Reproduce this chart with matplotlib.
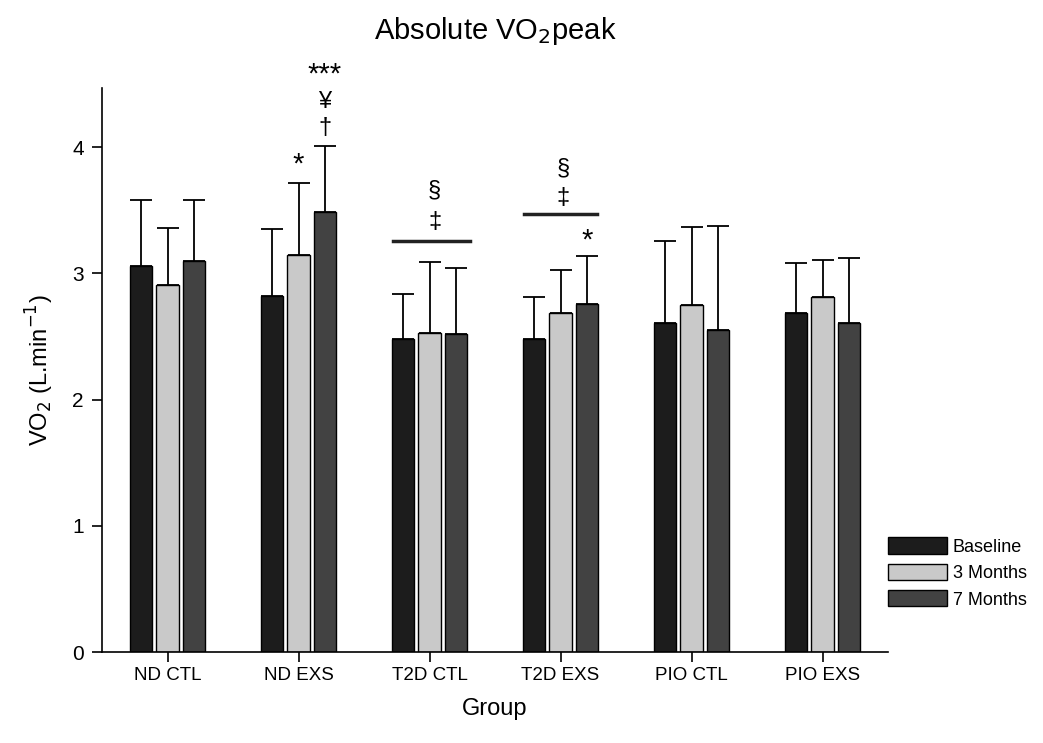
import numpy as np
import matplotlib.pyplot as plt

plt.rcParams['font.family'] = ['Liberation Sans', 'DejaVu Sans']

groups = ["ND CTL", "ND EXS", "T2D CTL", "T2D EXS", "PIO CTL", "PIO EXS"]
series = ["Baseline", "3 Months", "7 Months"]

baseline = [3.06, 2.82, 2.48, 2.48, 2.61, 2.69]
baseline_err = [0.52, 0.53, 0.36, 0.33, 0.65, 0.39]
month3 = [2.91, 3.15, 2.53, 2.69, 2.75, 2.81]
month3_err = [0.45, 0.57, 0.56, 0.34, 0.62, 0.30]
month7 = [3.10, 3.49, 2.52, 2.76, 2.55, 2.61]
month7_err = [0.48, 0.52, 0.52, 0.38, 0.83, 0.51]

colors = ["#1c1c1c", "#c9c9c9", "#424242"]

x = np.arange(len(groups))
width = 0.168
step = 0.2

fig = plt.figure(figsize=(10.43, 7.43), dpi=100)
ax = fig.add_axes([102 / 1043, 1 - 652 / 743, 786 / 1043, 564 / 743])

for i, (vals, errs) in enumerate([(baseline, baseline_err), (month3, month3_err), (month7, month7_err)]):
    pos = x + (i - 1) * step
    ax.bar(pos, vals, width, color=colors[i], edgecolor="black", linewidth=1.0,
           label=series[i], zorder=2)
    ax.errorbar(pos, vals, yerr=[np.zeros(len(errs)), errs], fmt="none",
                ecolor="black", elinewidth=1.3, capsize=8, capthick=1.3, zorder=1)

# significance marks
kw = dict(ha="center", va="center", fontsize=17, clip_on=False)
star = dict(ha="center", va="center", fontsize=21, clip_on=False)
ax.text(x[1], 3.86, "*", **star)
ax.text(x[1] + step, 4.15, "†", **kw)
ax.text(x[1] + step, 4.36, "¥", **kw)
ax.text(x[1] + step, 4.58, "***", **star)

ax.plot([x[2] - 0.28, x[2] + 0.31], [3.26, 3.26], color="#222222", lw=2.5)
ax.text(x[2] + 0.04, 3.41, "‡", **kw)
ax.text(x[2] + 0.04, 3.66, "§", **kw)

ax.plot([x[3] - 0.28, x[3] + 0.28], [3.47, 3.47], color="#222222", lw=2.5)
ax.text(x[3] + 0.02, 3.60, "‡", **kw)
ax.text(x[3] + 0.02, 3.83, "§", **kw)
ax.text(x[3] + step, 3.26, "*", **star)

ax.set_xlim(-0.5, 5.5)
ax.set_ylim(0, 4.47)
ax.set_xticks(x)
ax.set_xticklabels(groups, fontsize=13.5)
ax.set_yticks([0, 1, 2, 3, 4])
ax.tick_params(axis="y", labelsize=15, length=7, width=1.2, pad=6)
ax.tick_params(axis="x", length=7, width=1.2, pad=4)
for s in ["top", "right"]:
    ax.spines[s].set_visible(False)
for s in ["left", "bottom"]:
    ax.spines[s].set_linewidth(1.2)

ax.set_xlabel("Group", fontsize=17, labelpad=10)
ax.set_ylabel("VO$_2$ (L.min$^{-1}$)", fontsize=17, labelpad=12)
fig.suptitle("Absolute VO$_2$peak", x=0.475, y=0.98, fontsize=21)

ax.legend(loc="center left", bbox_to_anchor=(888 / 1043, 1 - 573 / 743),
          bbox_transform=fig.transFigure, frameon=False, fontsize=13,
          borderpad=0, borderaxespad=0,
          handlelength=3.25, handleheight=1.0, labelspacing=0.45, handletextpad=0.35)

fig.savefig("out.png", dpi=100)
